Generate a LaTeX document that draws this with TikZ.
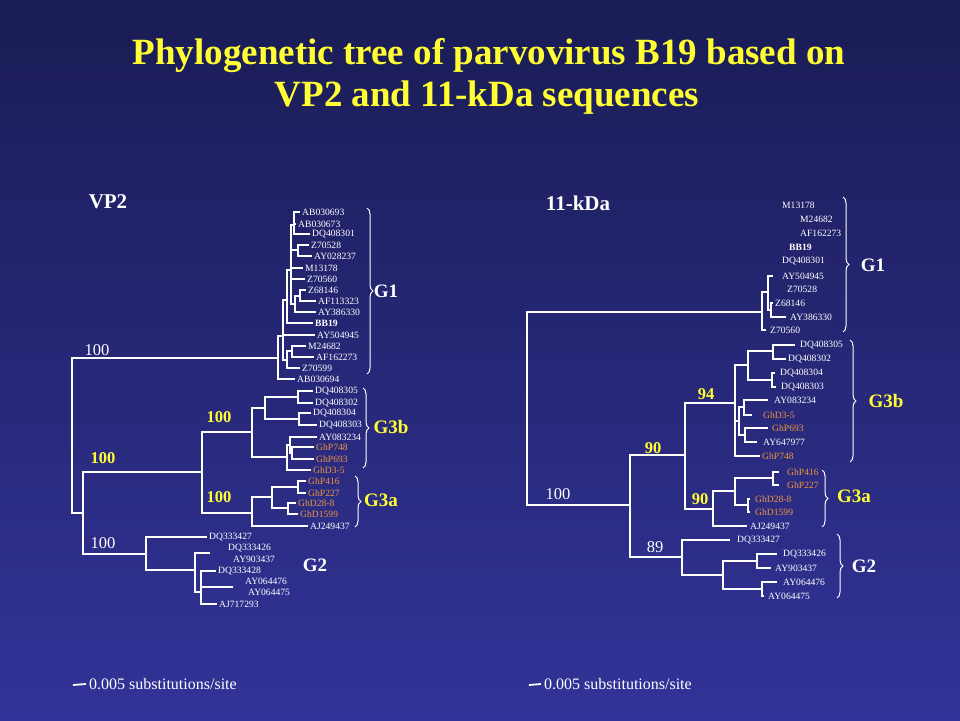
\documentclass[tikz,border=0pt]{standalone}
\usepackage{fontspec}
\setmainfont{Liberation Serif}
\usetikzlibrary{decorations.pathreplacing}
\definecolor{slidetop}{RGB}{26,28,84}
\definecolor{slidebottom}{RGB}{51,51,153}
\definecolor{titleyellow}{RGB}{255,255,51}
\definecolor{strainorange}{RGB}{240,150,60}

\begin{document}
\begin{tikzpicture}[x=1pt, y=-1pt,
	taxon/.style={anchor=west, inner xsep=2pt, inner ysep=0pt, text=white, font=\fontsize{9.6}{10}\selectfont},
	boldtaxon/.style={taxon, font=\fontsize{9.6}{10}\selectfont\bfseries},
	ghtaxon/.style={taxon, text=strainorange},
	labelgap/.style={inner xsep=#1},
	boot/.style={text=white, font=\fontsize{16.5}{18}\selectfont},
	yellowboot/.style={text=titleyellow, font=\fontsize{16.5}{18}\selectfont\bfseries},
	grouplabel/.style={font=\fontsize{19}{22}\selectfont\bfseries},
	treename/.style={text=white, font=\fontsize{21}{24}\selectfont\bfseries},
	titletext/.style={anchor=base, text=titleyellow, font=\fontsize{37}{42}\selectfont\bfseries},
	scaletext/.style={anchor=west, inner xsep=3pt, text=white, font=\fontsize{16}{18}\selectfont},
	branch/.style={draw=white, line width=1.8pt},
	groupbrace/.style={draw=white, line width=1pt, decorate, decoration={brace, amplitude=6pt}},
	]
	\useasboundingbox (0,0) rectangle (960,720);
	\shade[top color=slidetop, bottom color=slidebottom] (0,0) rectangle (960,720);
	
	%Title
	\node[titletext] (title1) at (489,64) {Phylogenetic tree of parvovirus B19 based on};
	\node[titletext] (title2) at (487,106) {VP2 and 11-kDa sequences};
	\node[treename] (vp2)  at (108,202) {VP2};
	\node[treename] (kda)  at (578,203) {11-kDa};
	
	%VP2 tree, inner nodes
	\coordinate (lroot) at (72,436);
	\coordinate (lg1) at (278,358);
	\coordinate (lb)  at (283,336);
	\coordinate (lc)  at (287,300);
	\coordinate (ld)  at (287,360);
	\coordinate (le)  at (291,270);
	\coordinate (lf)  at (294,225);
	\coordinate (lz)  at (298,250);
	\coordinate (lg)  at (295,304);
	\coordinate (lh)  at (300,296);
	\coordinate (lm)  at (292,351);
	\coordinate (l3n) at (83,513);
	\coordinate (l3)  at (202,472);
	\coordinate (l3b) at (252,432);
	\coordinate (li)  at (265,408);
	\coordinate (lk1) at (298,397);
	\coordinate (lk2) at (299,419);
	\coordinate (lj)  at (287,457);
	\coordinate (lj2) at (290,445);
	\coordinate (lp)  at (292,453);
	\coordinate (l3a) at (252,513);
	\coordinate (lq)  at (272,497);
	\coordinate (lr)  at (298,487);
	\coordinate (ls)  at (288,508);
	\coordinate (l2)  at (146,554);
	\coordinate (lm2) at (195,570);
	\coordinate (ln)  at (201,592);
	\coordinate (l-g2end1) at (210,553);
	\coordinate (l-g2end2) at (233,587);
	
	%VP2 tree, taxa
	\node[taxon] (l-ab030693) at (300,212) {AB030693};
	\node[taxon] (l-ab030673) at (296,224) {AB030673};
	\node[taxon] (l-dq408301) at (310,234) {DQ408301};
	\node[taxon] (l-z70528)   at (309,245) {Z70528};
	\node[taxon] (l-ay028237) at (312,256) {AY028237};
	\node[taxon] (l-m13178)   at (303,268) {M13178};
	\node[taxon] (l-z70560)   at (305,279) {Z70560};
	\node[taxon] (l-z68146)   at (306,290) {Z68146};
	\node[taxon] (l-af113323) at (316,301) {AF113323};
	\node[taxon] (l-ay386330) at (316,312) {AY386330};
	\node[boldtaxon] (l-bb19) at (313,323) {BB19};
	\node[taxon] (l-ay504945) at (315,335) {AY504945};
	\node[taxon] (l-m24682)   at (306,346) {M24682};
	\node[taxon] (l-af162273) at (314,357) {AF162273};
	\node[taxon] (l-z70599)   at (300,368) {Z70599};
	\node[taxon] (l-ab030694) at (295,379) {AB030694};
	\node[taxon] (l-dq408305) at (313,391) {DQ408305};
	\node[taxon] (l-dq408302) at (313,403) {DQ408302};
	\node[taxon] (l-dq408304) at (311,413) {DQ408304};
	\node[taxon] (l-dq408303) at (317,425) {DQ408303};
	\node[taxon] (l-ay083234) at (317,437) {AY083234};
	\node[ghtaxon] (l-ghp748) at (314,447) {GhP748};
	\node[ghtaxon] (l-ghp693) at (314,459) {GhP693};
	\node[ghtaxon] (l-ghd35)  at (311,470) {GhD3-5};
	\node[ghtaxon] (l-ghp416) at (306,481) {GhP416};
	\node[ghtaxon] (l-ghp227) at (306,493) {GhP227};
	\node[ghtaxon] (l-ghd288) at (296,503) {GhD28-8};
	\node[ghtaxon] (l-ghd1599) at (298,514) {GhD1599};
	\node[taxon] (l-aj249437) at (308,526) {AJ249437};
	\node[taxon] (l-dq333427) at (207,537) {DQ333427};
	\node[taxon, labelgap=0pt] (l-dq333426) at (228,548) {DQ333426};
	\node[taxon, labelgap=0pt] (l-ay903437) at (233,559) {AY903437};
	\node[taxon] (l-dq333428) at (216,571) {DQ333428};
	\node[taxon, labelgap=0pt] (l-ay064476) at (245,581) {AY064476};
	\node[taxon, labelgap=0pt] (l-ay064475) at (248,592) {AY064475};
	\node[taxon] (l-aj717293) at (217,604) {AJ717293};
	
	%VP2 tree, branches
	\draw[branch] (lroot) |- (lg1) (lroot) |- (l3n);
	\draw[branch] (lg1) |- (lb) (lg1) |- (l-ab030694);
	\draw[branch] (lb) |- (lc) (lb) |- (l-ay504945) (lb) |- (ld);
	\draw[branch] (ld) |- (lm) (ld) |- (l-z70599);
	\draw[branch] (lm) |- (l-m24682) (lm) |- (l-af162273);
	\draw[branch] (lc) |- (le) (lc) |- (l-bb19);
	\draw[branch] (le) |- (lf) (le) |- (lz) (le) |- (l-m13178) (le) |- (l-z70560) (le) |- (lg);
	\draw[branch] (lf) |- (l-ab030693) (lf) |- (l-ab030673) (lf) |- (l-dq408301);
	\draw[branch] (lz) |- (l-z70528) (lz) |- (l-ay028237);
	\draw[branch] (lg) |- (lh) (lg) |- (l-ay386330);
	\draw[branch] (lh) |- (l-z68146) (lh) |- (l-af113323);
	\draw[branch] (l3n) |- (l3) (l3n) |- (l2);
	\draw[branch] (l3) |- (l3b) (l3) |- (l3a);
	\draw[branch] (l3b) |- (li) (l3b) |- (lj);
	\draw[branch] (li) |- (lk1) (li) |- (lk2);
	\draw[branch] (lk1) |- (l-dq408305) (lk1) |- (l-dq408302);
	\draw[branch] (lk2) |- (l-dq408304) (lk2) |- (l-dq408303);
	\draw[branch] (lj) |- (lj2) (lj) |- (l-ghd35);
	\draw[branch] (lj2) |- (l-ay083234) (lj2) |- (lp);
	\draw[branch] (lp) |- (l-ghp748) (lp) |- (l-ghp693);
	\draw[branch] (l3a) |- (lq) (l3a) |- (l-aj249437);
	\draw[branch] (lq) |- (lr) (lq) |- (ls);
	\draw[branch] (lr) |- (l-ghp416) (lr) |- (l-ghp227);
	\draw[branch] (ls) |- (l-ghd288) (ls) |- (l-ghd1599);
	\draw[branch] (l2) |- (l-dq333427) (l2) |- (lm2);
	\draw[branch] (lm2) |- (l-g2end1) (lm2) |- (ln);
	\draw[branch] (ln) |- (l-dq333428) (ln) |- (l-g2end2) (ln) |- (l-aj717293);
	
	%VP2 tree, support values and groups
	\node[boot] (l-bs1) at (97,350) {100};
	\node[yellowboot] (l-bs2) at (219,417) {100};
	\node[yellowboot] (l-bs3) at (103,458) {100};
	\node[yellowboot] (l-bs4) at (219,497) {100};
	\node[boot] (l-bs5) at (103,543) {100};
	\draw[groupbrace] (367,208) -- (367,374);
	\draw[groupbrace] (363,388) -- (363,468);
	\draw[groupbrace] (355,476) -- (355,527);
	\node[grouplabel, text=white] (l-g1) at (386,291) {G1};
	\node[grouplabel, text=titleyellow] (l-g3b) at (391,427) {G3b};
	\node[grouplabel, text=titleyellow] (l-g3a) at (381,500) {G3a};
	\node[grouplabel, text=white] (l-g2) at (315,565) {G2};
	
	%11-kDa tree, inner nodes
	\coordinate (rroot) at (527,408);
	\coordinate (rg1) at (762,312);
	\coordinate (rq)  at (768,292);
	\coordinate (rr)  at (771,310);
	\coordinate (rn)  at (630,505);
	\coordinate (r3)  at (685,455);
	\coordinate (r3b) at (735,403);
	\coordinate (ru)  at (748,365);
	\coordinate (rv)  at (773,351);
	\coordinate (rw)  at (772,380);
	\coordinate (rx)  at (739,421);
	\coordinate (ry)  at (744,407);
	\coordinate (rz)  at (745,435);
	\coordinate (r3a) at (713,509);
	\coordinate (rbb) at (735,491);
	\coordinate (rcc) at (773,478);
	\coordinate (rdd) at (748,505);
	\coordinate (r2)  at (682,557);
	\coordinate (rff) at (723,575);
	\coordinate (rgg) at (757,561);
	\coordinate (rhh) at (762,589);
	
	%11-kDa tree, taxa
	\node[taxon, labelgap=0pt] (r-m13178)   at (782,205) {M13178};
	\node[taxon, labelgap=0pt] (r-m24682)   at (800,219) {M24682};
	\node[taxon, labelgap=0pt] (r-af162273) at (800,233) {AF162273};
	\node[boldtaxon, labelgap=0pt] (r-bb19) at (789,247) {BB19};
	\node[taxon, labelgap=0pt] (r-dq408301) at (782,261) {DQ408301};
	\node[taxon, labelgap=9pt] (r-ay504945) at (773,276) {AY504945};
	\node[taxon, labelgap=0pt] (r-z70528)   at (787,289) {Z70528};
	\node[taxon] (r-z68146)   at (773,303) {Z68146};
	\node[taxon, labelgap=4pt] (r-ay386330) at (786,317) {AY386330};
	\node[taxon, labelgap=4pt] (r-z70560)   at (766,330) {Z70560};
	\node[taxon, labelgap=5pt] (r-dq408305) at (795,345) {DQ408305};
	\node[taxon] (r-dq408302) at (786,359) {DQ408302};
	\node[taxon, labelgap=5pt] (r-dq408304) at (775,373) {DQ408304};
	\node[taxon, labelgap=5pt] (r-dq408303) at (776,387) {DQ408303};
	\node[taxon, labelgap=6pt] (r-ay083234) at (768,400) {AY083234};
	\node[ghtaxon, labelgap=11pt] (r-ghd35) at (752,415) {GhD3-5};
	\node[ghtaxon, labelgap=4pt] (r-ghp693) at (768,428) {GhP693};
	\node[taxon, labelgap=6pt] (r-ay647977) at (757,442) {AY647977};
	\node[ghtaxon] (r-ghp748) at (760,456) {GhP748};
	\node[ghtaxon, labelgap=8pt] (r-ghp416) at (779,472) {GhP416};
	\node[ghtaxon, labelgap=8pt] (r-ghp227) at (779,485) {GhP227};
	\node[ghtaxon, labelgap=5pt] (r-ghd288) at (750,499) {GhD28-8};
	\node[ghtaxon, labelgap=5pt] (r-ghd1599) at (750,512) {GhD1599};
	\node[taxon, labelgap=3pt] (r-aj249437) at (747,526) {AJ249437};
	\node[taxon, labelgap=7pt] (r-dq333427) at (730,540) {DQ333427};
	\node[taxon, labelgap=6pt] (r-dq333426) at (777,554) {DQ333426};
	\node[taxon, labelgap=4pt] (r-ay903437) at (771,568) {AY903437};
	\node[taxon, labelgap=6pt] (r-ay064476) at (777,582) {AY064476};
	\node[taxon, labelgap=4pt] (r-ay064475) at (764,596) {AY064475};
	
	%11-kDa tree, branches
	\draw[branch] (rroot) |- (rg1) (rroot) |- (rn);
	\draw[branch] (rg1) |- (rq) (rg1) |- (r-z70560);
	\draw[branch] (rq) |- (r-ay504945) (rq) |- (rr);
	\draw[branch] (rr) |- (r-z68146) (rr) |- (r-ay386330);
	\draw[branch] (rn) |- (r3) (rn) |- (r2);
	\draw[branch] (r3) |- (r3b) (r3) |- (r3a);
	\draw[branch] (r3b) |- (ru) (r3b) |- (rx) (r3b) |- (r-ghp748);
	\draw[branch] (ru) |- (rv) (ru) |- (rw);
	\draw[branch] (rv) |- (r-dq408305) (rv) |- (r-dq408302);
	\draw[branch] (rw) |- (r-dq408304) (rw) |- (r-dq408303);
	\draw[branch] (rx) |- (ry) (rx) |- (rz);
	\draw[branch] (ry) |- (r-ay083234) (ry) |- (r-ghd35);
	\draw[branch] (rz) |- (r-ghp693) (rz) |- (r-ay647977);
	\draw[branch] (r3a) |- (rbb) (r3a) |- (r-aj249437);
	\draw[branch] (rbb) |- (rcc) (rbb) |- (rdd);
	\draw[branch] (rcc) |- (r-ghp416) (rcc) |- (r-ghp227);
	\draw[branch] (rdd) |- (r-ghd288) (rdd) |- (r-ghd1599);
	\draw[branch] (r2) |- (r-dq333427) (r2) |- (rff);
	\draw[branch] (rff) |- (rgg) (rff) |- (rhh);
	\draw[branch] (rgg) |- (r-dq333426) (rgg) |- (r-ay903437);
	\draw[branch] (rhh) |- (r-ay064476) (rhh) |- (r-ay064475);
	
	%11-kDa tree, support values and groups
	\node[boot] (r-bs1) at (558,494) {100};
	\node[yellowboot] (r-bs2) at (706,394) {94};
	\node[yellowboot] (r-bs3) at (653,448) {90};
	\node[yellowboot] (r-bs4) at (700,499) {90};
	\node[boot] (r-bs5) at (655,547) {89};
	\draw[groupbrace] (843,197) -- (843,332);
	\draw[groupbrace] (850,340) -- (850,462);
	\draw[groupbrace] (822,470) -- (822,527);
	\draw[groupbrace] (837,534) -- (837,598);
	\node[grouplabel, text=white] (r-g1) at (873,265) {G1};
	\node[grouplabel, text=titleyellow] (r-g3b) at (886,401) {G3b};
	\node[grouplabel, text=titleyellow] (r-g3a) at (854,496) {G3a};
	\node[grouplabel, text=white] (r-g2) at (864,566) {G2};
	
	%Scale bars
	\coordinate (l-bar) at (73,685);
	\node[scaletext] (l-scale) at (86,684) {0.005 substitutions/site};
	\draw[branch] (l-bar) -- (l-scale.west);
	\coordinate (r-bar) at (529,685);
	\node[scaletext] (r-scale) at (541,684) {0.005 substitutions/site};
	\draw[branch] (r-bar) -- (r-scale.west);
\end{tikzpicture}
\end{document}
